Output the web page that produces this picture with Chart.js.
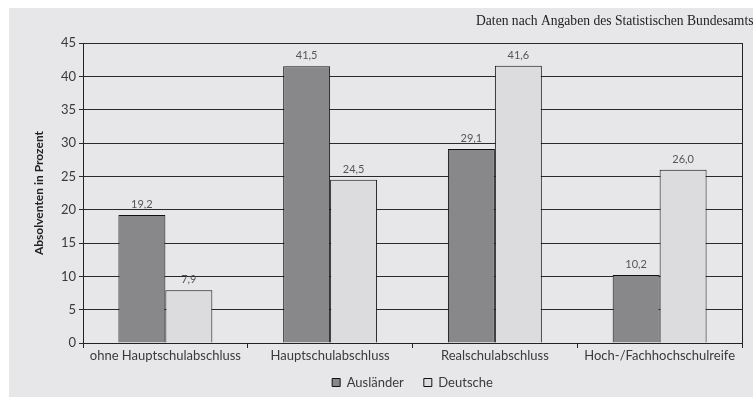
<!DOCTYPE html>
<html>
<head>
<meta charset="utf-8">
<script src="https://cdn.jsdelivr.net/npm/chart.js@4/dist/chart.umd.min.js"></script>
<style>
  html, body { margin: 0; padding: 0; background: #ffffff; }
  #wrap { width: 753px; height: 399px; position: relative; }
</style>
</head>
<body>
<div id="wrap"><canvas id="c" width="753" height="399"></canvas></div>
<script>
// Schulabschlüsse von Ausländern und Deutschen (Anteil der Absolventen in %)
const categories = ['ohne Hauptschulabschluss', 'Hauptschulabschluss', 'Realschulabschluss', 'Hoch-/Fachhochschulreife'];
const auslaender = [19.2, 41.5, 29.1, 10.2];
const deutsche = [7.9, 24.5, 41.6, 26.0];
const seriesNames = ['Ausländer', 'Deutsche'];
const yTicks = [0, 5, 10, 15, 20, 25, 30, 35, 40, 45];
const sourceNote = 'Daten nach Angaben des Statistischen Bundesamts';
const yTitle = 'Absolventen in Prozent';

const TEXT = '#3a3a3a';
const SANS = 'Lato, "Open Sans", sans-serif';

// grey panel behind the chart plus the source note
const panel = {
  id: 'panel',
  beforeDraw(chart) {
    const ctx = chart.ctx;
    ctx.save();
    ctx.fillStyle = '#ffffff';
    ctx.fillRect(0, 0, chart.width, chart.height);
    ctx.fillStyle = '#e7e7e9';
    ctx.fillRect(9, 8, chart.width - 9, chart.height - 10);
    ctx.fillStyle = '#222';
    ctx.font = '13.6px "Liberation Serif", serif';
    ctx.textBaseline = 'middle';
    ctx.textAlign = 'left';
    ctx.fillText(sourceNote, 476, 21);
    ctx.restore();
  }
};

// value labels above each bar, German decimal comma
const valueLabels = {
  id: 'valueLabels',
  afterDatasetsDraw(chart) {
    const ctx = chart.ctx;
    ctx.save();
    ctx.font = '11px ' + SANS;
    ctx.fillStyle = '#555';
    ctx.textAlign = 'center';
    ctx.textBaseline = 'bottom';
    chart.data.datasets.forEach((ds, i) => {
      chart.getDatasetMeta(i).data.forEach((bar, j) => {
        ctx.fillText(ds.data[j].toFixed(1).replace('.', ','), bar.x, bar.y - 5);
      });
    });
    ctx.restore();
  }
};

// center the legend under the plot area; let category labels extend below the compact x box
const layoutTweaks = {
  id: 'layoutTweaks',
  afterLayout(chart) {
    const lg = chart.legend;
    if (lg) {
      lg.left = chart.chartArea.left;
      lg.right = chart.chartArea.right;
    }
    const x = chart.scales.x;
    if (x) x.bottom = x.top + 30;
  }
};

new Chart(document.getElementById('c'), {
  type: 'bar',
  data: {
    labels: categories,
    datasets: [
      { label: seriesNames[0], data: auslaender, backgroundColor: '#88888a', borderColor: '#111', borderWidth: 1 },
      { label: seriesNames[1], data: deutsche, backgroundColor: '#dcdcde', borderColor: '#111', borderWidth: 1 }
    ]
  },
  options: {
    responsive: false,
    animation: false,
    devicePixelRatio: 1,
    layout: { padding: { left: 0, right: 10, top: 43, bottom: 0 } },
    datasets: { bar: { categoryPercentage: 0.57, barPercentage: 1.0 } },
    plugins: {
      tooltip: { enabled: false },
      legend: {
        position: 'bottom',
        labels: {
          boxWidth: 8, boxHeight: 8, padding: 20,
          font: { family: SANS, size: 13 }, color: TEXT,
          generateLabels(chart) {
            return chart.data.datasets.map((ds, i) => ({
              text: ds.label, fillStyle: ds.backgroundColor, strokeStyle: '#111',
              lineWidth: 1, datasetIndex: i, hidden: false, fontColor: TEXT
            }));
          }
        }
      }
    },
    scales: {
      x: {
        grid: { display: true, offset: true, drawOnChartArea: false, drawTicks: true, tickLength: 5, color: '#222' },
        border: { display: true, color: '#222', width: 1 },
        ticks: { font: { family: SANS, size: 13 }, color: TEXT, padding: 0, maxRotation: 0 },
        afterFit(scale) { scale.height = 13; }
      },
      y: {
        min: 0, max: 45,
        afterBuildTicks(scale) { scale.ticks = yTicks.map(v => ({ value: v })); },
        grid: { color: '#2a2a2a', lineWidth: 1, drawTicks: true, tickLength: 4 },
        border: { display: true, color: '#222', width: 1 },
        ticks: { font: { family: SANS, size: 13 }, color: TEXT, padding: 3 },
        title: { display: true, text: yTitle, font: { family: SANS, size: 12, weight: 'bold' }, color: '#222', padding: { top: 32, bottom: 0 } },
        afterFit(scale) { scale.width = 83; }
      },
      yRight: {
        position: 'right', min: 0, max: 45,
        grid: { drawOnChartArea: false, drawTicks: false },
        border: { display: true, color: '#222', width: 1 },
        ticks: { display: false },
        afterFit(scale) { scale.width = 1; }
      }
    }
  },
  plugins: [panel, valueLabels, layoutTweaks]
});
</script>
</body>
</html>
